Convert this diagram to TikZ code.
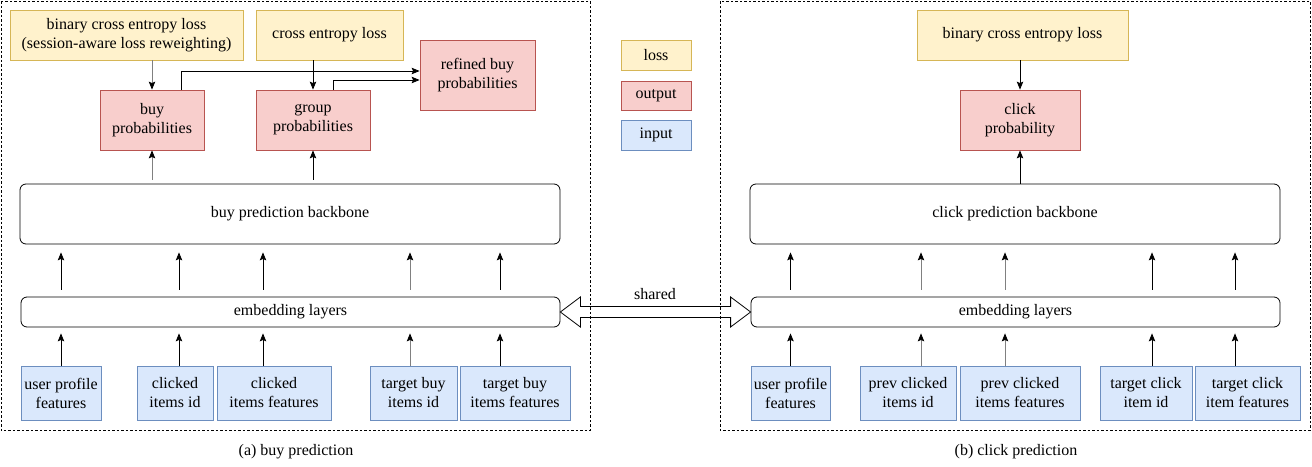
\documentclass[tikz,border=0pt]{standalone}
\usepackage{fontspec}
\setmainfont{Liberation Serif}
\usetikzlibrary{arrows.meta,calc}
\definecolor{lossfill}{HTML}{FFF2CC}
\definecolor{lossline}{HTML}{D6B656}
\definecolor{outfill}{HTML}{F8CECC}
\definecolor{outline}{HTML}{B85450}
\definecolor{infill}{HTML}{DAE8FC}
\definecolor{inline}{HTML}{6C8EBF}
\definecolor{stemgray}{HTML}{808080}
\begin{document}
\begin{tikzpicture}[x=1pt,y=-1pt,
  every node/.style={font=\fontsize{16}{19}\selectfont, inner sep=0pt, align=center},
  lossbox/.style={draw=lossline, fill=lossfill, line width=0.8pt},
  outbox/.style={draw=outline, fill=outfill, line width=0.8pt, minimum height=60pt},
  inbox/.style={draw=inline, fill=infill, line width=0.8pt, minimum height=54pt},
  roundbox/.style={draw=black, fill=white, rounded corners=6pt, line width=0.8pt},
  arr/.style={-{Stealth[length=8pt,width=6.5pt,inset=1.5pt]}, line width=0.8pt},
  garr/.style={-{Stealth[length=8pt,width=6.5pt,inset=1.5pt,black]}, line width=0.8pt, draw=stemgray},
  frame/.style={draw=black, line width=0.7pt, dash pattern=on 2.5pt off 2pt}]
\useasboundingbox (0,0) rectangle (1312,466);

% ---------- left panel ----------
\node[lossbox, minimum width=233pt, minimum height=50pt] (bce1) at (126.5,35) {binary cross entropy loss\\(session-aware loss reweighting)};
\node[lossbox, minimum width=147pt, minimum height=50pt] (ce1) at (329.5,35) {cross entropy loss};
\node[outbox, minimum width=115pt, minimum height=70pt] (refined) at (477.5,75) {refined buy\\probabilities};
\node[outbox, minimum width=104pt] (buyp) at (152,120) {buy\\probabilities};
\node[outbox, minimum width=114pt] (groupp) at (313,120) {group\\probabilities};
\node[roundbox, minimum width=540pt, minimum height=60pt] (bb1) at (290,214) {buy prediction backbone};
\node[roundbox, minimum width=539pt, minimum height=30pt] (emb1) at (290.5,312) {embedding layers};
\node[inbox, minimum width=80pt] (u1) at (61,393) {user profile\\features};
\node[inbox, minimum width=76pt] (ci1) at (175,393) {clicked\\items id};
\node[inbox, minimum width=114pt] (cf1) at (274,393) {clicked\\items features};
\node[inbox, minimum width=87pt] (tb1) at (413.5,393) {target buy\\items id};
\node[inbox, minimum width=110pt] (tf1) at (515,393) {target buy\\items features};

\draw[garr] (bce1.south -| buyp.north) -- (buyp.north);
\draw[arr] (ce1.south -| groupp.north) -- (groupp.north);
\draw[garr, shorten <=4pt] (bb1.north -| buyp.south) -- (buyp.south);
\draw[arr, shorten <=4pt] (bb1.north -| groupp.south) -- (groupp.south);
\draw[arr] ([xshift=29pt]buyp.north) |- ([yshift=4pt]refined.west);
\draw[arr] ([xshift=20pt]groupp.north) |- ([yshift=-5pt]refined.west);

\draw[arr, shorten >=6pt] (u1.north) -- (u1.north |- emb1.south);
\draw[arr, shorten >=6pt] ([xshift=4pt]ci1.north) -- ([xshift=4pt]ci1.north |- emb1.south);
\draw[arr, shorten >=6pt] ([xshift=-11pt]cf1.north) -- ([xshift=-11pt]cf1.north |- emb1.south);
\draw[garr, shorten >=6pt] ([xshift=-3.5pt]tb1.north) -- ([xshift=-3.5pt]tb1.north |- emb1.south);
\draw[arr, shorten >=6pt] ([xshift=-15pt]tf1.north) -- ([xshift=-15pt]tf1.north |- emb1.south);

\draw[arr, shorten <=7pt, shorten >=8pt] (u1.north |- emb1.north) -- (u1.north |- bb1.south);
\draw[arr, shorten <=7pt, shorten >=8pt] ([xshift=4pt]ci1.north |- emb1.north) -- ([xshift=4pt]ci1.north |- bb1.south);
\draw[arr, shorten <=7pt, shorten >=8pt] ([xshift=-11pt]cf1.north |- emb1.north) -- ([xshift=-11pt]cf1.north |- bb1.south);
\draw[garr, shorten <=7pt, shorten >=8pt] ([xshift=-3.5pt]tb1.north |- emb1.north) -- ([xshift=-3.5pt]tb1.north |- bb1.south);
\draw[arr, shorten <=7pt, shorten >=8pt] ([xshift=-15pt]tf1.north |- emb1.north) -- ([xshift=-15pt]tf1.north |- bb1.south);

% ---------- legend ----------
\node[lossbox, minimum width=70pt, minimum height=30pt] (lgloss) at (656,55) {loss};
\node[draw=outline, fill=outfill, line width=0.8pt, minimum width=70pt, minimum height=29pt] (lgout) at (656,95.5) {output};
\node[draw=inline, fill=infill, line width=0.8pt, minimum width=70pt, minimum height=30pt] (lgin) at (656,135) {input};

% ---------- right panel ----------
\node[lossbox, minimum width=211pt, minimum height=50pt] (bce2) at (1022.5,35) {binary cross entropy loss};
\node[outbox, minimum width=120pt] (clickp) at (1020,120) {click\\probability};
\node[roundbox, minimum width=530pt, minimum height=60pt] (bb2) at (1015,214) {click prediction backbone};
\node[roundbox, minimum width=529pt, minimum height=30pt] (emb2) at (1015.5,312) {embedding layers};
\node[inbox, minimum width=79pt] (u2) at (790.5,393) {user profile\\features};
\node[inbox, minimum width=96pt] (pi2) at (908,393) {prev clicked\\items id};
\node[inbox, minimum width=120pt] (pf2) at (1020,393) {prev clicked\\items features};
\node[inbox, minimum width=92pt] (ti2) at (1146,393) {target click\\item id};
\node[inbox, minimum width=105pt] (tf2) at (1247.5,393) {target click\\item features};

\draw[arr] (bce2.south -| clickp.north) -- (clickp.north);
\draw[arr] (bb2.north -| clickp.south) -- (clickp.south);

\draw[arr, shorten >=6pt] (u2.north) -- (u2.north |- emb2.south);
\draw[garr, shorten >=6pt] ([xshift=13pt]pi2.north) -- ([xshift=13pt]pi2.north |- emb2.south);
\draw[garr, shorten >=6pt] ([xshift=-15pt]pf2.north) -- ([xshift=-15pt]pf2.north |- emb2.south);
\draw[arr, shorten >=6pt] ([xshift=6pt]ti2.north) -- ([xshift=6pt]ti2.north |- emb2.south);
\draw[arr, shorten >=6pt] ([xshift=-12.5pt]tf2.north) -- ([xshift=-12.5pt]tf2.north |- emb2.south);

\draw[arr, shorten <=7pt, shorten >=8pt] (u2.north |- emb2.north) -- (u2.north |- bb2.south);
\draw[garr, shorten <=7pt, shorten >=8pt] ([xshift=13pt]pi2.north |- emb2.north) -- ([xshift=13pt]pi2.north |- bb2.south);
\draw[garr, shorten <=7pt, shorten >=8pt] ([xshift=-15pt]pf2.north |- emb2.north) -- ([xshift=-15pt]pf2.north |- bb2.south);
\draw[arr, shorten <=7pt, shorten >=8pt] ([xshift=6pt]ti2.north |- emb2.north) -- ([xshift=6pt]ti2.north |- bb2.south);
\draw[arr, shorten <=7pt, shorten >=8pt] ([xshift=-12.5pt]tf2.north |- emb2.north) -- ([xshift=-12.5pt]tf2.north |- bb2.south);

% ---------- shared block arrow ----------
\draw[line width=0.8pt, fill=white] (emb1.east) -- ($(emb1.east)+(20,-15)$) -- ($(emb1.east)+(20,-5.5)$)
  -- ($(emb2.west)+(-20,-5.5)$) -- ($(emb2.west)+(-20,-15)$) -- (emb2.west)
  -- ($(emb2.west)+(-20,15)$) -- ($(emb2.west)+(-20,5.5)$) -- ($(emb1.east)+(20,5.5)$)
  -- ($(emb1.east)+(20,15)$) -- cycle;
\node (shared) at (655,294) {shared};

% ---------- frames and captions ----------
\draw[frame] (1,1) rectangle (590,430);
\draw[frame] (720,1) rectangle (1310,430);
\node (capa) at (296,452) {(a) buy prediction};
\node (capb) at (1016,452) {(b) click prediction};
\end{tikzpicture}
\end{document}
